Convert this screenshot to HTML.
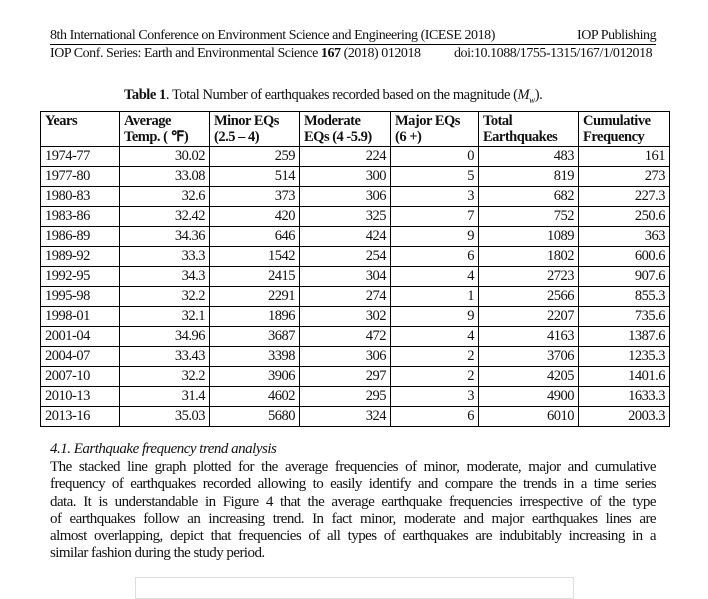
<!DOCTYPE html>
<html><head><meta charset="utf-8"><style>
body{margin:0;background:#fff;width:708px;height:585px;overflow:hidden;font-family:"Liberation Serif",serif;color:#111;position:relative}
.a{position:absolute;white-space:nowrap;font-size:14px;letter-spacing:-0.45px}
table{position:absolute;left:40px;top:111px;border-collapse:collapse;font-size:14.5px;letter-spacing:-0.5px}
td{border:1px solid #000;height:19px;padding:0 4px;line-height:15px;text-align:right}
td:first-child{text-align:left}
tr.h td{text-align:left;font-weight:bold;height:33px;vertical-align:top;line-height:16px;padding-top:1px;font-size:14.5px}
.p{position:absolute;left:50px;top:459px;width:606px;font-size:15px;line-height:17.3px;letter-spacing:-0.55px}
.p div{text-align:justify;text-align-last:justify;white-space:nowrap}
.p div:last-child{text-align-last:left}
</style></head><body>
<div class="a" style="left:50px;top:28px">8th International Conference on Environment Science and Engineering (ICESE 2018)</div>
<div class="a" style="left:577px;top:28px">IOP Publishing</div>
<div style="position:absolute;left:50px;top:44px;width:606px;height:1px;background:#000"></div>
<div class="a" style="left:50px;top:46px">IOP Conf. Series: Earth and Environmental Science <b>167</b> (2018) 012018</div>
<div class="a" style="left:454px;top:46px">doi:10.1088/1755-1315/167/1/012018</div>
<div class="a" style="left:124px;top:87px;font-size:14.5px"><b>Table 1</b>. Total Number of earthquakes recorded based on the magnitude (<i>M<sub style="font-size:9px">w</sub></i>).</div>
<table>
<colgroup><col style="width:79px"><col style="width:90px"><col style="width:90px"><col style="width:91px"><col style="width:88px"><col style="width:100px"><col style="width:91px"></colgroup>
<tr class="h"><td>Years</td><td>Average<br>Temp. ( ℉)</td><td>Minor EQs<br>(2.5 – 4)</td><td>Moderate<br>EQs (4 -5.9)</td><td>Major EQs<br>(6 +)</td><td>Total<br>Earthquakes</td><td>Cumulative<br>Frequency</td></tr>
<tr><td>1974-77</td><td>30.02</td><td>259</td><td>224</td><td>0</td><td>483</td><td>161</td></tr>
<tr><td>1977-80</td><td>33.08</td><td>514</td><td>300</td><td>5</td><td>819</td><td>273</td></tr>
<tr><td>1980-83</td><td>32.6</td><td>373</td><td>306</td><td>3</td><td>682</td><td>227.3</td></tr>
<tr><td>1983-86</td><td>32.42</td><td>420</td><td>325</td><td>7</td><td>752</td><td>250.6</td></tr>
<tr><td>1986-89</td><td>34.36</td><td>646</td><td>424</td><td>9</td><td>1089</td><td>363</td></tr>
<tr><td>1989-92</td><td>33.3</td><td>1542</td><td>254</td><td>6</td><td>1802</td><td>600.6</td></tr>
<tr><td>1992-95</td><td>34.3</td><td>2415</td><td>304</td><td>4</td><td>2723</td><td>907.6</td></tr>
<tr><td>1995-98</td><td>32.2</td><td>2291</td><td>274</td><td>1</td><td>2566</td><td>855.3</td></tr>
<tr><td>1998-01</td><td>32.1</td><td>1896</td><td>302</td><td>9</td><td>2207</td><td>735.6</td></tr>
<tr><td>2001-04</td><td>34.96</td><td>3687</td><td>472</td><td>4</td><td>4163</td><td>1387.6</td></tr>
<tr><td>2004-07</td><td>33.43</td><td>3398</td><td>306</td><td>2</td><td>3706</td><td>1235.3</td></tr>
<tr><td>2007-10</td><td>32.2</td><td>3906</td><td>297</td><td>2</td><td>4205</td><td>1401.6</td></tr>
<tr><td>2010-13</td><td>31.4</td><td>4602</td><td>295</td><td>3</td><td>4900</td><td>1633.3</td></tr>
<tr><td>2013-16</td><td>35.03</td><td>5680</td><td>324</td><td>6</td><td>6010</td><td>2003.3</td></tr>
</table>
<div class="a" style="left:50px;top:441px;font-style:italic;font-size:15px;letter-spacing:-0.5px">4.1. Earthquake frequency trend analysis</div>
<div class="p">
<div>The stacked line graph plotted for the average frequencies of minor, moderate, major and cumulative</div>
<div>frequency of earthquakes recorded allowing to easily identify and compare the trends in a time series</div>
<div>data. It is understandable in Figure 4 that the average earthquake frequencies irrespective of the type</div>
<div>of earthquakes follow an increasing trend. In fact minor, moderate and major earthquakes lines are</div>
<div>almost overlapping, depict that frequencies of all types of earthquakes are indubitably increasing in a</div>
<div>similar fashion during the study period.</div>
</div>
<div style="position:absolute;left:135px;top:577px;width:437px;height:20px;border:1px solid #ddd"></div>
</body></html>
